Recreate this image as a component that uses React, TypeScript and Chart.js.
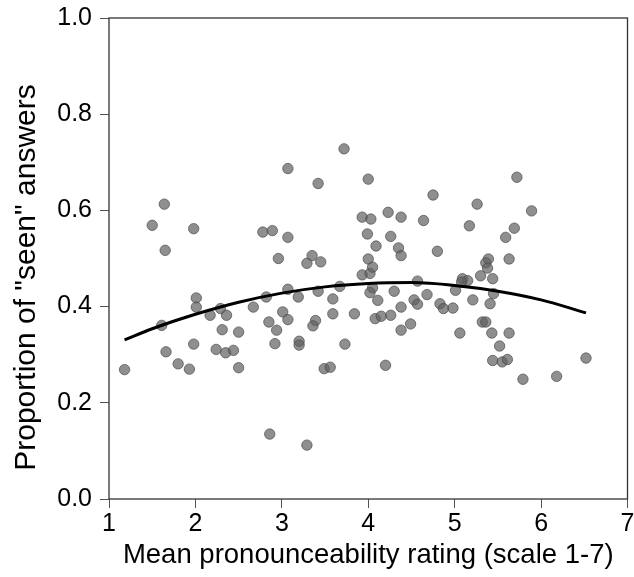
import React, { useEffect, useRef } from "react";
import { Chart, registerables } from "chart.js";

Chart.register(...registerables);

const ratingX: number[] = [
  1.64, 1.5, 1.98, 1.65, 2.01, 2.01, 1.61, 2.17, 2.29, 2.36,
  2.31, 2.5, 1.98, 1.66, 2.24, 2.35, 2.44, 1.8, 1.93, 1.18,
  2.5, 3.72, 3.07, 3.42, 4.0, 3.93, 4.03, 3.99, 2.78, 2.89,
  3.07, 2.96, 3.35, 3.29, 3.45, 4.0, 3.93, 4.02, 4.05, 3.07,
  3.67, 2.82, 3.19, 3.42, 3.59, 2.67, 3.01, 3.07, 2.85, 3.39,
  3.36, 3.59, 3.84, 2.94, 2.92, 3.2, 3.2, 3.73, 3.49, 3.56,
  2.86, 3.29, 4.75, 5.26, 4.23, 4.38, 4.64, 5.17, 4.26, 4.09,
  4.35, 4.38, 4.8, 5.39, 5.36, 5.38, 5.3, 5.44, 5.09, 5.15,
  5.08, 4.57, 4.05, 4.02, 4.3, 4.68, 5.01, 5.45, 4.11, 4.53,
  4.57, 4.83, 4.87, 4.98, 5.21, 5.41, 4.38, 4.08, 4.15, 4.26,
  4.49, 4.38, 5.06, 5.32, 5.36, 5.43, 5.52, 5.44, 4.2, 5.72,
  5.89, 5.69, 5.59, 5.63, 5.63, 5.55, 5.61, 6.52, 5.79, 6.18,
];

const seenY: number[] = [
  0.613, 0.569, 0.562, 0.517, 0.418, 0.399, 0.361, 0.382, 0.396, 0.382,
  0.352, 0.347, 0.322, 0.306, 0.311, 0.304, 0.309, 0.281, 0.27, 0.269,
  0.273, 0.728, 0.687, 0.656, 0.665, 0.586, 0.582, 0.551, 0.555, 0.558,
  0.544, 0.5, 0.506, 0.49, 0.493, 0.499, 0.466, 0.469, 0.482, 0.436,
  0.442, 0.42, 0.42, 0.432, 0.416, 0.399, 0.389, 0.373, 0.368, 0.371,
  0.36, 0.385, 0.385, 0.351, 0.323, 0.328, 0.32, 0.322, 0.271, 0.274,
  0.135, 0.112, 0.632, 0.613, 0.596, 0.586, 0.579, 0.568, 0.546, 0.526,
  0.522, 0.506, 0.515, 0.499, 0.491, 0.48, 0.464, 0.458, 0.458, 0.454,
  0.451, 0.453, 0.439, 0.429, 0.432, 0.425, 0.434, 0.427, 0.413, 0.414,
  0.405, 0.406, 0.396, 0.397, 0.414, 0.406, 0.399, 0.375, 0.38, 0.382,
  0.364, 0.351, 0.345, 0.368, 0.368, 0.345, 0.318, 0.288, 0.278, 0.669,
  0.599, 0.563, 0.544, 0.499, 0.345, 0.285, 0.29, 0.293, 0.249, 0.255,
];

const fitX: number[] = [1.18, 1.5, 2, 2.5, 3, 3.5, 4, 4.5, 5, 5.5, 6, 6.52];
const fitY: number[] = [0.331, 0.354, 0.384, 0.409, 0.428, 0.441, 0.448, 0.45, 0.444, 0.432, 0.414, 0.387];

const xTicks: number[] = [1, 2, 3, 4, 5, 6, 7];
const yTicks: number[] = [0, 0.2, 0.4, 0.6, 0.8, 1.0];

const xTitle = "Mean pronounceability rating (scale 1-7)";
const yTitle = 'Proportion of "seen" answers';

const FONT = "'Liberation Sans', Arial, sans-serif";

const boxPlugin = {
  id: "boxPlugin",
  afterDatasetsDraw(chart: any) {
    const { ctx, chartArea } = chart;
    ctx.save();
    ctx.strokeStyle = "#333";
    ctx.lineWidth = 1.3;
    ctx.strokeRect(chartArea.left, chartArea.top, chartArea.right - chartArea.left, chartArea.bottom - chartArea.top);
    ctx.restore();
  },
};

const yTitlePlugin = {
  id: "yTitlePlugin",
  afterDraw(chart: any) {
    const { ctx, chartArea } = chart;
    ctx.save();
    ctx.translate(27, (chartArea.top + chartArea.bottom) / 2 + 19);
    ctx.rotate(-Math.PI / 2);
    ctx.font = `30px ${FONT}`;
    ctx.fillStyle = "#000";
    ctx.textAlign = "center";
    ctx.textBaseline = "middle";
    ctx.fillText(yTitle, 0, 0);
    ctx.restore();
  },
};

export default function App() {
  const canvasRef = useRef<HTMLCanvasElement | null>(null);

  useEffect(() => {
    if (!canvasRef.current) return;
    const points = ratingX.map((x, i) => ({ x, y: seenY[i] }));
    const curve = fitX.map((x, i) => ({ x, y: fitY[i] }));
    const chart = new Chart(canvasRef.current, {
      type: "scatter",
      data: {
        datasets: [
          {
            type: "line",
            label: "fit",
            data: curve,
            borderColor: "#000",
            borderWidth: 3,
            pointRadius: 0,
            fill: false,
            cubicInterpolationMode: "monotone",
          } as any,
          {
            type: "scatter",
            label: "items",
            data: points,
            backgroundColor: "rgba(95,95,95,0.7)",
            borderColor: "rgba(75,75,75,0.7)",
            borderWidth: 1,
            pointRadius: 5.2,
          },
        ],
      },
      options: {
        animation: false,
        responsive: true,
        maintainAspectRatio: false,
        layout: { padding: { top: 18, right: 6.5, left: 0, bottom: 0 } },
        plugins: {
          legend: { display: false },
          tooltip: { enabled: false },
        },
        scales: {
          x: {
            type: "linear",
            min: 1,
            max: 7,
            afterBuildTicks: (scale: any) => {
              scale.ticks = xTicks.map((v) => ({ value: v }));
            },
            afterFit: (scale: any) => {
              scale.height = 78;
              scale.paddingLeft = 0;
              scale.paddingRight = 0;
            },
            ticks: {
              color: "#000",
              font: { family: FONT, size: 25 },
              padding: 1,
              maxRotation: 0,
              callback: (v: any) => String(v),
            },
            grid: {
              display: true,
              drawOnChartArea: false,
              drawTicks: true,
              tickLength: 9,
              color: "#555",
            },
            border: { display: false },
            title: {
              display: true,
              text: xTitle,
              color: "#000",
              font: { family: FONT, size: 27.5 },
              padding: { top: 0, bottom: 5 },
            },
          },
          y: {
            type: "linear",
            min: 0,
            max: 1,
            afterBuildTicks: (scale: any) => {
              scale.ticks = yTicks.map((v) => ({ value: v }));
            },
            afterFit: (scale: any) => {
              scale.width = 109;
              scale.paddingTop = 0;
              scale.paddingBottom = 0;
            },
            ticks: {
              color: "#000",
              font: { family: FONT, size: 25 },
              padding: 8,
              callback: (v: any) => Number(v).toFixed(1),
            },
            grid: {
              display: true,
              drawOnChartArea: false,
              drawTicks: true,
              tickLength: 9,
              color: "#555",
            },
            border: { display: false },
            title: { display: false },
          },
        },
      },
      plugins: [boxPlugin, yTitlePlugin],
    });
    return () => chart.destroy();
  }, []);

  return (
    <div style={{ position: "absolute", left: 0, top: 0, width: 634, height: 577, background: "#fff" }}>
      <canvas ref={canvasRef} />
    </div>
  );
}
